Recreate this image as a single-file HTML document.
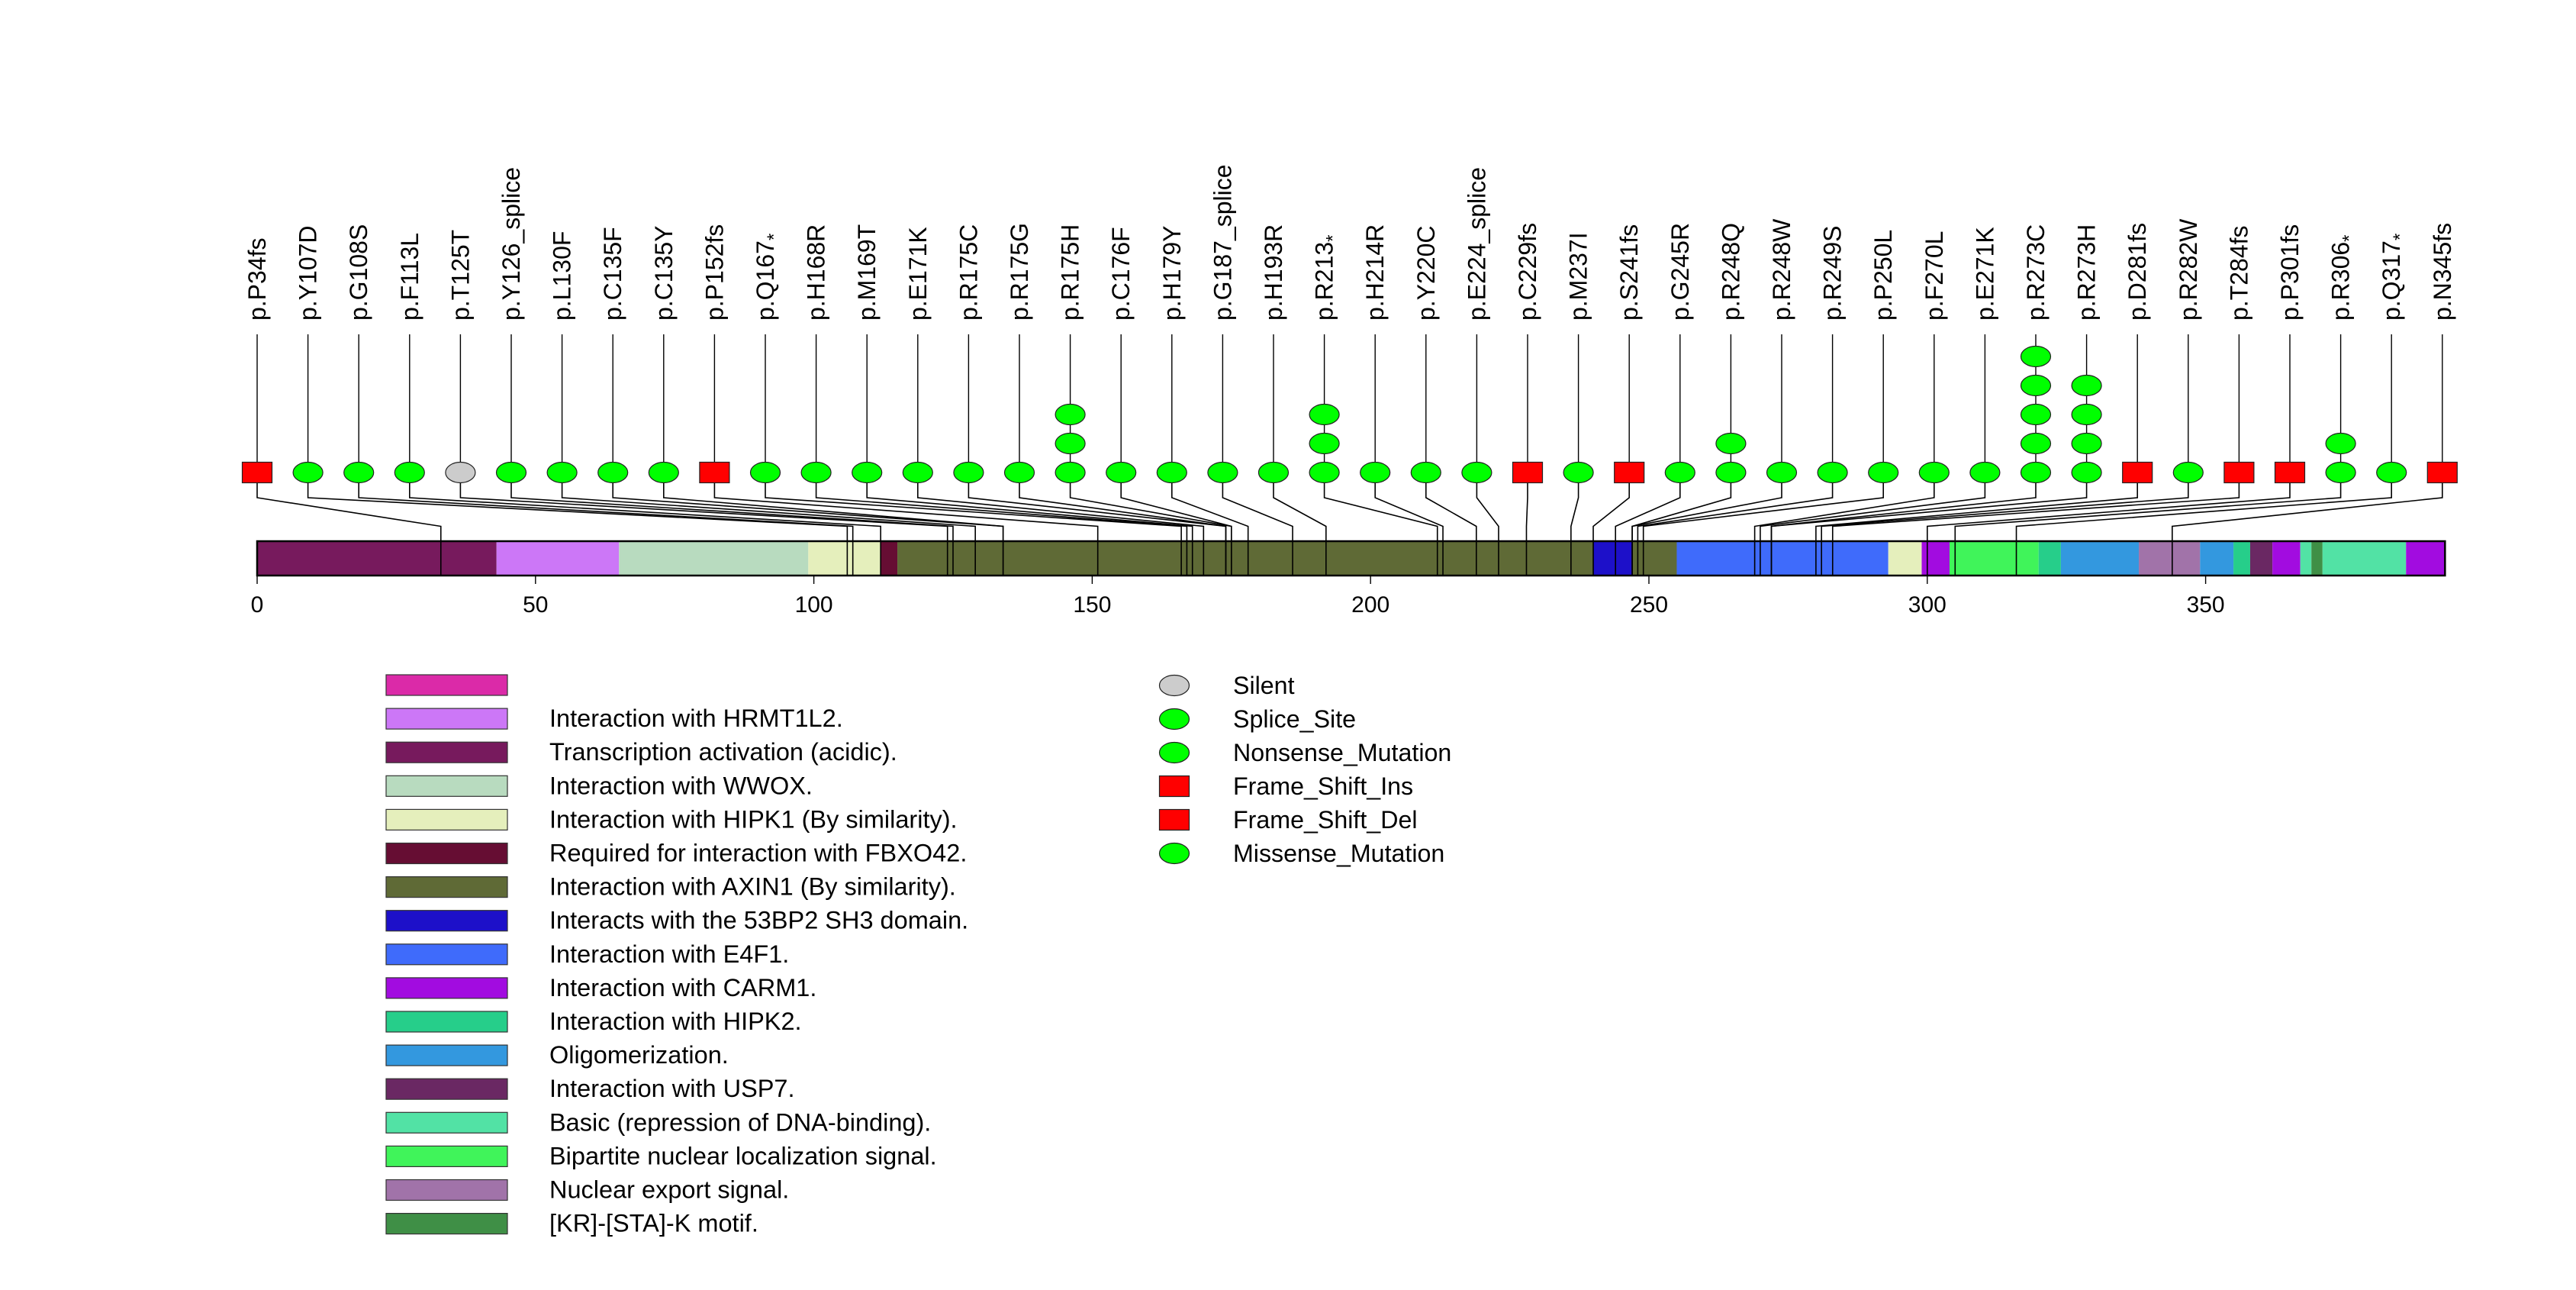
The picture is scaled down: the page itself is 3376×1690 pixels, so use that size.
<!DOCTYPE html>
<html><head><meta charset="utf-8"><style>
html,body{margin:0;padding:0;background:#fff}
svg{display:block;font-family:"Liberation Sans",sans-serif}
</style></head><body>
<svg id="chart" width="3376" height="1690" viewBox="0 0 3376 1690" xmlns="http://www.w3.org/2000/svg">
<g id="domains"></g>
<g id="muts"></g>
<g id="axis"></g>
<g id="legend"></g>
<g id="legend2"></g>
</svg>
<script>
const proteinLength = 393;
const domainStarts = [0,43,65,99,112,115,240,247,255,293,299,304,320,324,338,349,355,358,362,367,369,371,386];
const domainEnds   = [43,65,99,112,115,240,247,255,293,299,304,320,324,338,349,355,358,362,367,369,371,386,393];
const domainKinds  = [2,1,3,4,5,6,7,6,8,4,9,14,10,11,15,11,10,12,9,13,16,13,9];
const legendLabels = ["","Interaction with HRMT1L2.","Transcription activation (acidic).","Interaction with WWOX.","Interaction with HIPK1 (By similarity).","Required for interaction with FBXO42.","Interaction with AXIN1 (By similarity).","Interacts with the 53BP2 SH3 domain.","Interaction with E4F1.","Interaction with CARM1.","Interaction with HIPK2.","Oligomerization.","Interaction with USP7.","Basic (repression of DNA-binding).","Bipartite nuclear localization signal.","Nuclear export signal.","[KR]-[STA]-K motif."];
const legendColors = ["#DB2AA8","#CC77F7","#771A5D","#B8DBBF","#E5EFBC","#660D33","#5F6A36","#1D10C9","#3F6BFB","#A20CE0","#26CE8A","#3398DF","#6A2863","#52E2A5","#40F45A","#A173A9","#3F8F46"];
const mutLabels = ["p.P34fs","p.Y107D","p.G108S","p.F113L","p.T125T","p.Y126_splice","p.L130F","p.C135F","p.C135Y","p.P152fs","p.Q167*","p.H168R","p.M169T","p.E171K","p.R175C","p.R175G","p.R175H","p.C176F","p.H179Y","p.G187_splice","p.H193R","p.R213*","p.H214R","p.Y220C","p.E224_splice","p.C229fs","p.M237I","p.S241fs","p.G245R","p.R248Q","p.R248W","p.R249S","p.P250L","p.F270L","p.E271K","p.R273C","p.R273H","p.D281fs","p.R282W","p.T284fs","p.P301fs","p.R306*","p.Q317*","p.N345fs"];
const mutPositions = [33,106,107,112,124,125,129,134,134,151,166,167,168,170,174,174,175,175,178,186,192,212,213,219,223,228,236,240,244,247,247,248,249,269,270,272,272,280,281,283,300,305,316,344];
const mutCounts = [1,1,1,1,1,1,1,1,1,1,1,1,1,1,1,1,3,1,1,1,1,3,1,1,1,1,1,1,1,2,1,1,1,1,1,5,4,1,1,1,1,2,1,1];
const mutTypes = ["fs","mis","mis","mis","sil","spl","mis","mis","mis","fs","non","mis","mis","mis","mis","mis","mis","mis","mis","spl","mis","non","mis","mis","spl","fs","mis","fs","mis","mis","mis","mis","mis","mis","mis","mis","mis","fs","mis","fs","fs","non","non","fs"];
const axisTicks = [0,50,100,150,200,250,300,350];
const typeLabels = ["Silent","Splice_Site","Nonsense_Mutation","Frame_Shift_Ins","Frame_Shift_Del","Missense_Mutation"];
const typeShapes = ["sil","mis","mis","fs","fs","mis"];

const NS="http://www.w3.org/2000/svg";
const X0=337, PX=7.296, BAR_T=709, BAR_B=754;
function xScale(aa){return X0+aa*PX;}
function slotX(i){return 337+i*66.6;}
function el(tag,attrs,parent){const e=document.createElementNS(NS,tag);for(const k in attrs)e.setAttribute(k,attrs[k]);parent.appendChild(e);return e;}
const gD=document.getElementById('domains'),gM=document.getElementById('muts'),gA=document.getElementById('axis'),gL=document.getElementById('legend'),gL2=document.getElementById('legend2');

for(let i=0;i<domainStarts.length;i++){
  const r=el('rect',{x:xScale(domainStarts[i]),y:BAR_T,width:xScale(domainEnds[i])-xScale(domainStarts[i]),height:BAR_B-BAR_T,fill:legendColors[domainKinds[i]]},gD);
  
  
}
for(let i=0;i<mutPositions.length;i++){
  const sx=slotX(i), bx=xScale(mutPositions[i]);
  const p=el('polyline',{points:`${sx},632 ${sx},652 ${bx},689.5 ${bx},${BAR_B}`,fill:'none',stroke:'#000','stroke-width':1.6},gM);
  
  
}
const outline=el('rect',{x:X0,y:BAR_T,width:proteinLength*PX,height:BAR_B-BAR_T,fill:'none',stroke:'#000','stroke-width':2.5},gD);



function drawShape(type,cx,cy,parent,name){
  let s;
  if(type==='fs') s=el('rect',{x:cx-19.5,y:cy-13.5,width:39,height:27,fill:'#FF0000',stroke:'#222','stroke-width':1.2},parent);
  else s=el('ellipse',{cx:cx,cy:cy,rx:19.5,ry:13.5,fill:type==='sil'?'#CCCCCC':'#00FF00',stroke:'#222','stroke-width':1.2},parent);
  
  
}
for(let i=0;i<mutPositions.length;i++){
  const sx=slotX(i), n=mutCounts[i];
  const l=el('line',{x1:sx,y1:438,x2:sx,y2:619,stroke:'#000','stroke-width':1.4},gM);
  
  
  for(let k=0;k<n;k++) drawShape(mutTypes[i],sx,619-38*k,gM,'mutation-marker');
  const t=el('text',{x:sx+11,y:420,transform:`rotate(-90 ${sx+11} 420)`,'font-size':32,fill:'#000'},gM);
  
  
  const lab=mutLabels[i];
  if(lab.endsWith('*')){
    t.appendChild(document.createTextNode(lab.slice(0,-1)));
    const ts=el('tspan',{dy:8,'font-size':24},t);ts.textContent='*';
  } else t.textContent=lab;
}
for(const v of axisTicks){
  const x=xScale(v);
  const tk=el('line',{x1:x,y1:BAR_B,x2:x,y2:765,stroke:'#000','stroke-width':1.4},gA);
  
  
  const t=el('text',{x:x,y:802,'font-size':30,'text-anchor':'middle'},gA);
  
  
  t.textContent=v;
}
for(let i=0;i<legendLabels.length;i++){
  const y=884+i*44.1;
  const r=el('rect',{x:506,y:y,width:159,height:27,fill:legendColors[i],stroke:'#333','stroke-width':1.2},gL);
  
  
  const t=el('text',{x:720,y:y+24,'font-size':32.5},gL);
  
  
  t.textContent=legendLabels[i];
}
for(let i=0;i<typeLabels.length;i++){
  const cy=898+i*44;
  drawShape(typeShapes[i],1539,cy,gL2,'legend-marker');
  const t=el('text',{x:1616,y:cy+11,'font-size':32.2},gL2);
  
  
  t.textContent=typeLabels[i];
}
</script>
</body></html>
